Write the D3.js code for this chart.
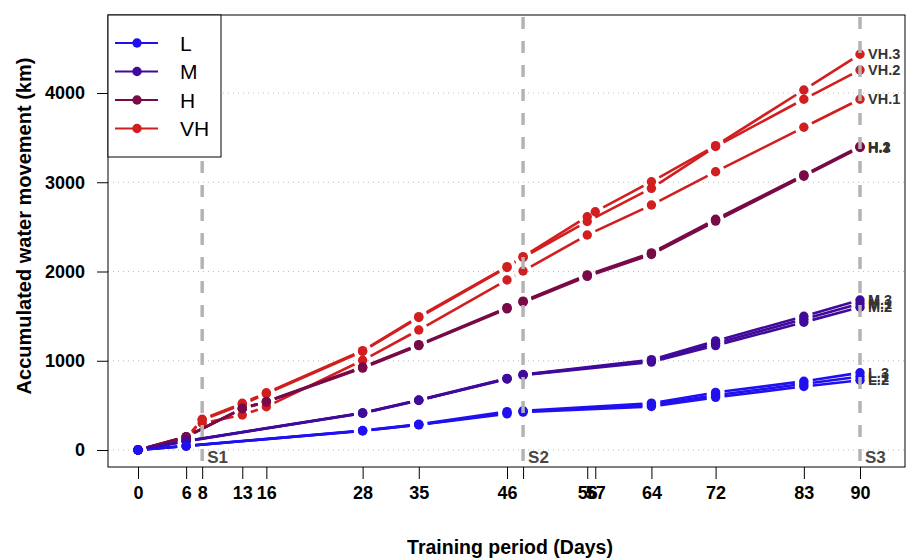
<!DOCTYPE html>
<html>
<head>
<meta charset="utf-8">
<script src="https://cdn.jsdelivr.net/npm/d3@7"></script>
<style>
  body { margin: 0; background: #fff; }
  svg { display: block; font-family: "Liberation Sans", Arial, sans-serif; }
</style>
</head>
<body>
<div id="chart"></div>
<script>
// Sampling days per group
const lDays = [0, 6, 28, 35, 46, 48, 64, 72, 83, 90];
const mDays = [0, 6, 28, 35, 46, 48, 64, 72, 83, 90];
const hDays = [0, 6, 13, 16, 28, 35, 46, 48, 56, 64, 72, 83, 90];
const vhDays = [0, 6, 8, 13, 16, 28, 35, 46, 48, 56, 64, 72, 83, 90];
const vh3Days = [0, 6, 8, 13, 16, 28, 35, 46, 48, 56, 57, 64, 72, 83, 90];

// Accumulated water movement (km), one array per tank
const l1 = [0, 45, 216, 284, 415, 432, 505, 615, 740, 822];
const l2 = [0, 44, 214, 282, 405, 425, 488, 590, 712, 782];
const l3 = [0, 46, 218, 288, 430, 440, 525, 645, 770, 865];
const m1 = [0, 100, 414, 557, 799, 842, 1000, 1195, 1465, 1640];
const m2 = [0, 98, 412, 555, 795, 838, 985, 1170, 1432, 1600];
const m3 = [0, 102, 416, 560, 803, 846, 1012, 1222, 1498, 1680];
const h1 = [0, 148, 465, 540, 925, 1175, 1590, 1662, 1955, 2200, 2575, 3075, 3395];
const h2 = [0, 150, 468, 543, 930, 1180, 1595, 1668, 1962, 2208, 2585, 3082, 3402];
const h3 = [0, 146, 462, 538, 918, 1170, 1582, 1655, 1945, 2190, 2565, 3068, 3390];
const vh1 = [0, 120, 300, 392, 485, 1005, 1345, 1905, 2006, 2409, 2745, 3118, 3616, 3930];
const vh2 = [0, 130, 335, 510, 630, 1105, 1485, 2045, 2158, 2560, 2932, 3400, 3930, 4258];
const vh3 = [0, 132, 344, 523, 642, 1113, 1494, 2054, 2166, 2614, 2670, 3006, 3410, 4034, 4434];

const groups = ["L", "M", "H", "VH"];
const groupColors = ["#2010f0", "#400a9a", "#780a48", "#d21e1e"];

const xTicks = [0, 6, 8, 13, 16, 28, 35, 46, 48, 56, 57, 64, 72, 83, 90];
const xTickLabels = ["0", "6", "8", "13", "16", "28", "35", "46", "", "56", "57", "64", "72", "83", "90"];
const yTicks = [0, 1000, 2000, 3000, 4000];
const stages = [8, 48, 90];
const stageLabels = ["S1", "S2", "S3"];

// drawing order: VH underneath, L on top
const series = [
  { name: "VH.1", group: "VH", days: vhDays, values: vh1 },
  { name: "VH.2", group: "VH", days: vhDays, values: vh2 },
  { name: "VH.3", group: "VH", days: vh3Days, values: vh3 },
  { name: "H.1", group: "H", days: hDays, values: h1 },
  { name: "H.2", group: "H", days: hDays, values: h2 },
  { name: "H.3", group: "H", days: hDays, values: h3 },
  { name: "M.1", group: "M", days: mDays, values: m1 },
  { name: "M.2", group: "M", days: mDays, values: m2 },
  { name: "M.3", group: "M", days: mDays, values: m3 },
  { name: "L.1", group: "L", days: lDays, values: l1 },
  { name: "L.2", group: "L", days: lDays, values: l2 },
  { name: "L.3", group: "L", days: lDays, values: l3 },
];

const width = 909, height = 558;
const plot = { left: 108, right: 905, top: 15, bottom: 467 };

const color = d3.scaleOrdinal().domain(groups).range(groupColors);
const x = d3.scaleLinear().domain([0, 90]).range([138, 860]);
const y = d3.scaleLinear().domain([0, 4000]).range([450, 93]);

const svg = d3.select("#chart").append("svg")
  .attr("width", width)
  .attr("height", height);

// dotted horizontal grid
svg.append("g")
  .selectAll("line")
  .data(yTicks)
  .enter()
  .append("line")
  .attr("x1", plot.left)
  .attr("x2", plot.right)
  .attr("y1", (d) => y(d))
  .attr("y2", (d) => y(d))
  .attr("stroke", "#bdbdbd")
  .attr("stroke-width", 1)
  .attr("stroke-dasharray", "1,4");

// line segments with gaps around points (type "b")
function gapSegments(pts, gap) {
  const segs = [];
  for (let i = 1; i < pts.length; i++) {
    const [x1, y1] = pts[i - 1];
    const [x2, y2] = pts[i];
    const len = Math.hypot(x2 - x1, y2 - y1);
    if (len <= 2 * gap) continue;
    const ux = (x2 - x1) / len, uy = (y2 - y1) / len;
    segs.push([x1 + ux * gap, y1 + uy * gap, x2 - ux * gap, y2 - uy * gap]);
  }
  return segs;
}

const seriesG = svg.append("g")
  .selectAll("g")
  .data(series)
  .enter()
  .append("g");

seriesG.each(function (s) {
  const pts = s.days.map((d, i) => [x(d), y(s.values[i])]);
  const g = d3.select(this);
  g.selectAll("line")
    .data(gapSegments(pts, 9))
    .enter()
    .append("line")
    .attr("x1", (d) => d[0])
    .attr("y1", (d) => d[1])
    .attr("x2", (d) => d[2])
    .attr("y2", (d) => d[3])
    .attr("stroke", color(s.group))
    .attr("stroke-width", 2.6);
  g.selectAll("circle")
    .data(pts)
    .enter()
    .append("circle")
    .attr("cx", (d) => d[0])
    .attr("cy", (d) => d[1])
    .attr("r", 4.7)
    .attr("fill", color(s.group));
});

// stage lines
svg.append("g")
  .selectAll("line")
  .data(stages)
  .enter()
  .append("line")
  .attr("x1", (d) => x(d))
  .attr("x2", (d) => x(d))
  .attr("y1", plot.top + 2)
  .attr("y2", plot.bottom)
  .attr("stroke", "#b4b4b4")
  .attr("stroke-width", 3.5)
  .attr("stroke-dasharray", "12,12");

svg.append("g")
  .selectAll("text")
  .data(stages)
  .enter()
  .append("text")
  .attr("x", (d) => x(d) + 5)
  .attr("y", 463)
  .attr("font-size", "17px")
  .attr("font-weight", "bold")
  .attr("fill", "#474747")
  .text((d, i) => stageLabels[i]);

// end labels
svg.append("g")
  .selectAll("text")
  .data(series)
  .enter()
  .append("text")
  .attr("x", (s) => x(s.days[s.days.length - 1]) + 8)
  .attr("y", (s) => y(s.values[s.values.length - 1]))
  .attr("dy", "0.36em")
  .attr("font-size", "14.5px")
  .attr("font-weight", "bold")
  .attr("fill", "#333")
  .text((s) => s.name);

// frame
svg.append("rect")
  .attr("x", plot.left)
  .attr("y", plot.top)
  .attr("width", plot.right - plot.left)
  .attr("height", plot.bottom - plot.top)
  .attr("fill", "none")
  .attr("stroke", "#000")
  .attr("stroke-width", 1);

// axes
const xAxis = svg.append("g")
  .attr("transform", `translate(0,${plot.bottom})`)
  .call(d3.axisBottom(x)
    .tickValues(xTicks)
    .tickFormat((d, i) => xTickLabels[i])
    .tickSize(12)
    .tickSizeOuter(0)
    .tickPadding(7));
xAxis.select(".domain").remove();

const yAxis = svg.append("g")
  .attr("transform", `translate(${plot.left},0)`)
  .call(d3.axisLeft(y)
    .tickValues(yTicks)
    .tickFormat(d3.format("d"))
    .tickSize(11)
    .tickSizeOuter(0)
    .tickPadding(12));
yAxis.select(".domain").remove();

svg.selectAll(".tick text")
  .attr("font-family", "Liberation Sans, Arial, sans-serif")
  .attr("font-size", "18px")
  .attr("font-weight", "bold")
  .attr("fill", "#000");
svg.selectAll(".tick line").attr("stroke", "#000");

// axis titles
svg.append("text")
  .attr("x", 510)
  .attr("y", 554)
  .attr("text-anchor", "middle")
  .attr("font-size", "19.5px")
  .attr("font-weight", "bold")
  .text("Training period (Days)");

svg.append("text")
  .attr("transform", "translate(24,226) rotate(-90)")
  .attr("text-anchor", "middle")
  .attr("dy", "0.36em")
  .attr("font-size", "20px")
  .attr("font-weight", "bold")
  .text("Accumulated water movement (km)");

// legend
const legend = svg.append("g").attr("transform", `translate(${plot.left},${plot.top})`);
legend.append("rect")
  .attr("width", 113)
  .attr("height", 142)
  .attr("fill", "#fff")
  .attr("stroke", "#000")
  .attr("stroke-width", 1);

const legendItem = legend.selectAll(".legend-item")
  .data(groups)
  .enter()
  .append("g")
  .attr("class", "legend-item")
  .attr("transform", (_, i) => `translate(0, ${28 + i * 28.5})`);

legendItem.append("line")
  .attr("x1", 7)
  .attr("x2", 50)
  .attr("stroke", (d) => color(d))
  .attr("stroke-width", 2.2);
legendItem.append("circle")
  .attr("cx", 29)
  .attr("r", 4.7)
  .attr("fill", (d) => color(d));
legendItem.append("text")
  .attr("x", 72)
  .attr("dy", "0.36em")
  .attr("font-size", "21px")
  .attr("fill", "#000")
  .text((d) => d);
</script>
</body>
</html>
